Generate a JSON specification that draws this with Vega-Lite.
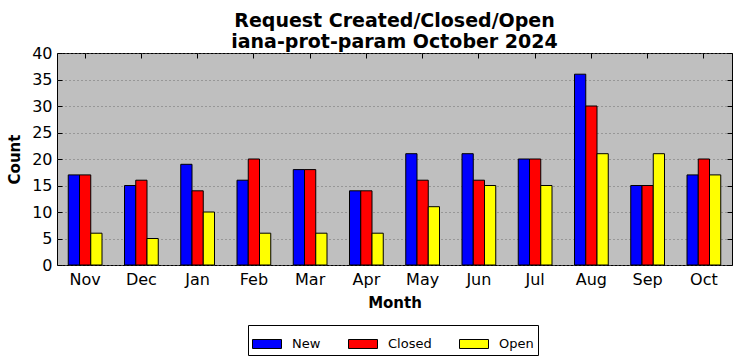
{
  "$schema": "https://vega.github.io/schema/vega-lite/v6.json",
  "autosize": "none",
  "width": 675,
  "height": 212,
  "padding": {"left": 57, "top": 53, "right": 9, "bottom": 96},
  "title": {
    "text": ["Request Created/Closed/Open", "iana-prot-param October 2024"],
    "fontSize": 19,
    "fontWeight": "bold",
    "font": "DejaVu Sans",
    "color": "black",
    "lineHeight": 21,
    "baseline": "alphabetic",
    "offset": -22,
    "anchor": "middle"
  },
  "data": {
    "values": [
      {"Month": "Nov", "Status": "New", "Count": 17},
      {"Month": "Nov", "Status": "Closed", "Count": 17},
      {"Month": "Nov", "Status": "Open", "Count": 6},
      {"Month": "Dec", "Status": "New", "Count": 15},
      {"Month": "Dec", "Status": "Closed", "Count": 16},
      {"Month": "Dec", "Status": "Open", "Count": 5},
      {"Month": "Jan", "Status": "New", "Count": 19},
      {"Month": "Jan", "Status": "Closed", "Count": 14},
      {"Month": "Jan", "Status": "Open", "Count": 10},
      {"Month": "Feb", "Status": "New", "Count": 16},
      {"Month": "Feb", "Status": "Closed", "Count": 20},
      {"Month": "Feb", "Status": "Open", "Count": 6},
      {"Month": "Mar", "Status": "New", "Count": 18},
      {"Month": "Mar", "Status": "Closed", "Count": 18},
      {"Month": "Mar", "Status": "Open", "Count": 6},
      {"Month": "Apr", "Status": "New", "Count": 14},
      {"Month": "Apr", "Status": "Closed", "Count": 14},
      {"Month": "Apr", "Status": "Open", "Count": 6},
      {"Month": "May", "Status": "New", "Count": 21},
      {"Month": "May", "Status": "Closed", "Count": 16},
      {"Month": "May", "Status": "Open", "Count": 11},
      {"Month": "Jun", "Status": "New", "Count": 21},
      {"Month": "Jun", "Status": "Closed", "Count": 16},
      {"Month": "Jun", "Status": "Open", "Count": 15},
      {"Month": "Jul", "Status": "New", "Count": 20},
      {"Month": "Jul", "Status": "Closed", "Count": 20},
      {"Month": "Jul", "Status": "Open", "Count": 15},
      {"Month": "Aug", "Status": "New", "Count": 36},
      {"Month": "Aug", "Status": "Closed", "Count": 30},
      {"Month": "Aug", "Status": "Open", "Count": 21},
      {"Month": "Sep", "Status": "New", "Count": 15},
      {"Month": "Sep", "Status": "Closed", "Count": 15},
      {"Month": "Sep", "Status": "Open", "Count": 21},
      {"Month": "Oct", "Status": "New", "Count": 17},
      {"Month": "Oct", "Status": "Closed", "Count": 20},
      {"Month": "Oct", "Status": "Open", "Count": 17}
    ]
  },
  "layer": [
    {
      "mark": {"type": "bar", "stroke": "black", "strokeWidth": 1, "opacity": 1},
      "encoding": {
        "x": {
          "field": "Month",
          "type": "nominal",
          "sort": ["Nov", "Dec", "Jan", "Feb", "Mar", "Apr", "May", "Jun", "Jul", "Aug", "Sep", "Oct"],
          "scale": {"paddingInner": 0.4, "paddingOuter": 0.2},
          "axis": {
            "orient": "bottom",
            "title": "Month",
            "titleFontSize": 15,
            "titleFontWeight": "bold",
            "titleColor": "black",
            "titlePadding": 8,
            "labelFontSize": 16,
            "labelColor": "black",
            "labelAngle": 0,
            "labelPadding": 11,
            "tickSize": -5,
            "tickColor": "black",
            "domain": false,
            "grid": false
          }
        },
        "xOffset": {
          "field": "Status",
          "type": "nominal",
          "sort": ["New", "Closed", "Open"],
          "scale": {"paddingInner": 0, "paddingOuter": 0}
        },
        "y": {
          "field": "Count",
          "type": "quantitative",
          "stack": null,
          "scale": {"domain": [0, 40], "nice": false},
          "axis": {
            "orient": "left",
            "title": "Count",
            "titleFontSize": 15,
            "titleFontWeight": "bold",
            "titleColor": "black",
            "titlePadding": 9,
            "labelFontSize": 16,
            "labelColor": "black",
            "labelPadding": 10,
            "values": [0, 5, 10, 15, 20, 25, 30, 35, 40],
            "tickSize": -5,
            "tickColor": "black",
            "domain": false,
            "grid": true,
            "gridColor": "#6e6e6e",
            "gridDash": [1, 3],
            "gridWidth": 1
          }
        },
        "color": {
          "field": "Status",
          "type": "nominal",
          "scale": {"domain": ["New", "Closed", "Open"], "range": ["#0000ff", "#ff0000", "#ffff00"]},
          "legend": {
            "orient": "none",
            "legendX": 191,
            "legendY": 272,
            "direction": "horizontal",
            "title": null,
            "symbolType": "M-1,-0.31H1V0.31H-1Z",
            "symbolSize": 841,
            "symbolStrokeColor": "black",
            "symbolStrokeWidth": 1,
            "symbolOpacity": 1,
            "labelFontSize": 13,
            "labelColor": "black",
            "labelOffset": 10,
            "columnPadding": 25,
            "padding": 4,
            "strokeColor": "black",
            "fillColor": "white"
          }
        }
      }
    },
    {
      "mark": {"type": "bar", "opacity": 0},
      "encoding": {
        "x": {
          "field": "Month",
          "type": "nominal",
          "sort": ["Nov", "Dec", "Jan", "Feb", "Mar", "Apr", "May", "Jun", "Jul", "Aug", "Sep", "Oct"],
          "axis": {
            "orient": "top",
            "title": null,
            "labels": false,
            "tickSize": -5,
            "tickColor": "black",
            "domain": false,
            "grid": false
          }
        },
        "y": {
          "field": "Count",
          "type": "quantitative",
          "stack": null,
          "axis": {
            "orient": "right",
            "title": null,
            "labels": false,
            "values": [0, 5, 10, 15, 20, 25, 30, 35, 40],
            "tickSize": -5,
            "tickColor": "black",
            "domain": false,
            "grid": false
          }
        }
      }
    }
  ],
  "resolve": {"axis": {"x": "independent", "y": "independent"}},
  "config": {
    "font": "DejaVu Sans",
    "view": {"fill": "#bfbfbf", "stroke": "black", "strokeWidth": 1}
  }
}
